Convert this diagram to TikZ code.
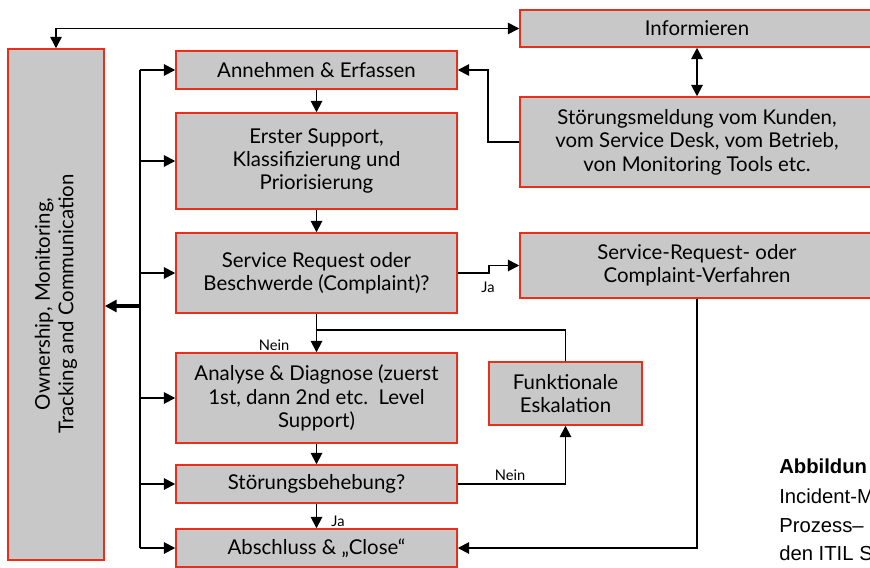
\documentclass[tikz,border=0pt]{standalone}
\usepackage{fontspec}
\setmainfont{Lato}
\newfontfamily\capfont{Liberation Sans}
\usetikzlibrary{arrows.meta}
\definecolor{boxfill}{RGB}{200,200,200}
\definecolor{boxred}{RGB}{235,45,25}
\tikzset{
  bx/.style 2 args={draw=boxred, fill=boxfill, line width=1.1pt, inner sep=2pt,
    minimum width=#1*0.75pt, minimum height=#2*0.75pt, align=center,
    font=\fontsize{15.3}{17.6}\selectfont},
  conn/.style={line width=1.4pt, draw=black},
  arr/.style={conn, -{Triangle[length=8.5pt,width=8.5pt]}},
  darr/.style={conn, {Triangle[length=8.5pt,width=8.5pt]}-{Triangle[length=8.5pt,width=8.5pt]}},
  lbl/.style={font=\fontsize{11}{12}\selectfont, inner sep=0pt},
  captext/.style={font=\capfont\fontsize{15.2}{16}\selectfont, anchor=base west, inner sep=0pt}
}
\begin{document}
\begin{tikzpicture}[x=0.75pt,y=-0.75pt]
\useasboundingbox (0,0) rectangle (870,567);
% boxes
\node[bx={96}{511}] (own) at (56,304.5) {};
\node[rotate=90, align=center, font=\fontsize{15.3}{17.6}\selectfont] (ownt) at (56,304) {Ownership, Monitoring,\\Tracking and Communication};
\node[bx={354}{37}] (inf) at (697,28.5) {Informieren};
\node[bx={354}{90}] (stm) at (697,142) {Störungsmeldung vom Kunden,\\vom Service Desk, vom Betrieb,\\von Monitoring Tools etc.};
\node[bx={281}{38}] (ann) at (316.5,70) {Annehmen \& Erfassen};
\node[bx={281}{96}] (ers) at (316.5,161) {Erster Support,\\Klassifizierung und\\Priorisierung};
\node[bx={281}{80}] (srq) at (316.5,273) {Service Request oder\\Beschwerde (Complaint)?};
\node[bx={354}{65}] (srv) at (697,265.5) {Service-Request- oder\\Complaint-Verfahren};
\node[bx={281}{90}] (ana) at (316.5,398) {Analyse \& Diagnose (zuerst\\1st, dann 2nd etc.\ \ Level\\Support)};
\node[bx={153}{63}] (fun) at (565.5,393.5) {Funktionale\\Eskalation};
\node[bx={281}{38}] (stb) at (316.5,484) {Störungsbehebung?};
\node[bx={281}{38}] (abs) at (316.5,548) {Abschluss \& „Close“};
% connectors
\draw[darr, line width=1.1pt] (inf.west) -| (own.north);
\draw[darr] (inf.south) -- (stm.north);
\draw[arr] (stm.west) -- ++(-31,0) |- (ann.east);
\draw[arr] (ann.south) -- (ers.north);
\draw[arr] (ers.south) -- (srq.north);
% bus
\coordinate (bt) at (140,70);
\coordinate (bb) at (140,548);
\coordinate (bm) at (140,306);
\draw[conn] (bt) -- (bb);
\draw[arr] (bt) -- (ann.west);
\draw[arr] (ers.west -| bt) -- (ers.west);
\draw[arr] (srq.west -| bt) -- (srq.west);
\draw[arr] (ana.west -| bt) -- (ana.west);
\draw[arr] (stb.west -| bt) -- (stb.west);
\draw[arr] (bb) -- (abs.west);
\draw[conn, line width=2.4pt, -{Triangle[length=9pt,width=9pt]}] (bm) -- (bm -| own.east);
% decision branches
\draw[arr] (srq.east) -- ++(31,0) |- (srv.west);
\node[lbl] (ja1) at (488,287) {Ja};
\draw[arr] (srv.south) |- (abs.east);
\draw[arr] (srq.south) -- (ana.north);
\node[lbl] (nein1) at (274,345) {Nein};
\coordinate (jn) at (316.5,330);
\draw[conn] (fun.north) |- (jn);
\draw[arr] (ana.south) -- (stb.north);
\draw[arr] (stb.east) -| (fun.south);
\node[lbl] (nein2) at (510,475) {Nein};
\draw[arr] (stb.south) -- (abs.north);
\node[lbl] (ja2) at (338,521) {Ja};
% caption
\node[captext] (c1) at (779,473) {\bfseries Abbildun};
\node[captext] (c2) at (779,503) {Incident-M};
\node[captext] (c3) at (779,532) {Prozess–};
\node[captext] (c4) at (779,560) {den ITIL S};
\end{tikzpicture}
\end{document}
